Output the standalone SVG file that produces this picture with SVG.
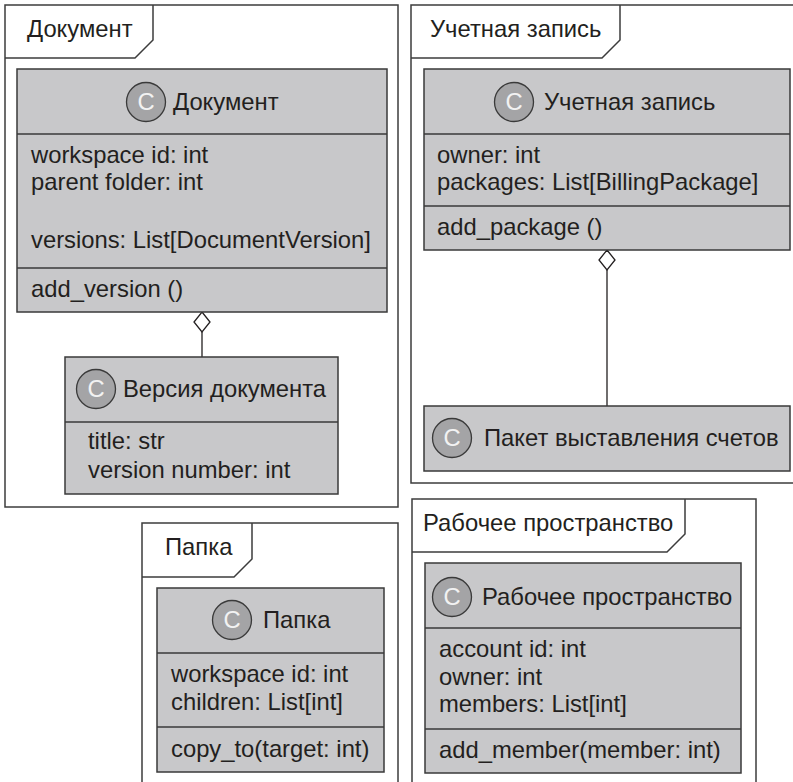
<svg xmlns="http://www.w3.org/2000/svg" width="793" height="782" viewBox="0 0 793 782">
<style>
  text { font-family: "Liberation Sans", Arial, sans-serif; font-size: 23.8px; fill: #231f20; }
  .frame { fill: #ffffff; stroke: #3c3c3c; stroke-width: 1.5; }
  .tab { fill: none; stroke: #3c3c3c; stroke-width: 1.5; }
  .cls { fill: #c8c8ca; stroke: #3a3a3a; stroke-width: 1.5; }
  .sep { stroke: #3a3a3a; stroke-width: 1.5; }
  .circ { fill: #a4a4a6; stroke: #3a3a3a; stroke-width: 1.3; }
  .cl { fill: #f2f2f2; text-anchor: middle; }
  .conn { fill: none; stroke: #231f20; stroke-width: 1.3; }
  .dia { fill: #ffffff; stroke: #231f20; stroke-width: 1.3; }
</style>

<g id="pkg-document">
  <rect class="frame" x="5" y="5" width="393" height="502"/>
  <path class="tab" d="M5,58 L135,58 L153,40 L153,5"/>
  <text x="27" y="37">Документ</text>
</g>
<g id="pkg-account">
  <rect class="frame" x="411" y="5" width="400" height="478"/>
  <path class="tab" d="M411,58 L602,58 L620,40 L620,5"/>
  <text x="430" y="37">Учетная запись</text>
</g>
<g id="pkg-folder">
  <rect class="frame" x="142" y="523" width="256" height="300"/>
  <path class="tab" d="M142,577 L234,577 L252,559 L252,523"/>
  <text x="165" y="555">Папка</text>
</g>
<g id="pkg-workspace">
  <rect class="frame" x="412" y="499" width="344" height="300"/>
  <path class="tab" d="M412,552 L667,552 L685,534 L685,499"/>
  <text x="423" y="531">Рабочее пространство</text>
</g>

<g id="connectors">
  <path class="conn" d="M202,332 L202,357"/>
  <path class="dia" d="M202,312 L210,322 L202,332 L194,322 Z"/>
  <path class="conn" d="M607,270 L607,406"/>
  <path class="dia" d="M607,250 L615,260 L607,270 L599,260 Z"/>
</g>

<g id="class-document">
  <rect class="cls" x="17" y="69" width="370" height="243"/>
  <line class="sep" x1="17" y1="134" x2="387" y2="134"/>
  <line class="sep" x1="17" y1="268" x2="387" y2="268"/>
  <circle class="circ" cx="146" cy="102" r="19.5"/>
  <text class="cl" x="146" y="110">C</text>
  <text x="173" y="110">Документ</text>
  <text x="31" y="163">workspace id: int</text>
  <text x="31" y="190">parent folder: int</text>
  <text x="31" y="248">versions: List[DocumentVersion]</text>
  <text x="31" y="297">add_version ()</text>
</g>

<g id="class-document-version">
  <rect class="cls" x="65" y="357" width="273" height="137"/>
  <line class="sep" x1="65" y1="422" x2="338" y2="422"/>
  <circle class="circ" cx="96" cy="389" r="19.5"/>
  <text class="cl" x="96" y="397">C</text>
  <text x="123" y="397">Версия документа</text>
  <text x="88" y="449">title: str</text>
  <text x="88" y="478">version number: int</text>
</g>

<g id="class-account">
  <rect class="cls" x="424" y="69" width="366" height="181"/>
  <line class="sep" x1="424" y1="134" x2="790" y2="134"/>
  <line class="sep" x1="424" y1="206" x2="790" y2="206"/>
  <circle class="circ" cx="514" cy="102" r="19.5"/>
  <text class="cl" x="514" y="110">C</text>
  <text x="544" y="110">Учетная запись</text>
  <text x="437" y="163">owner: int</text>
  <text x="437" y="190">packages: List[BillingPackage]</text>
  <text x="437" y="235">add_package ()</text>
</g>

<g id="class-billing-package">
  <rect class="cls" x="424" y="406" width="366" height="65"/>
  <circle class="circ" cx="452" cy="438" r="19.5"/>
  <text class="cl" x="452" y="446">C</text>
  <text x="484" y="446">Пакет выставления счетов</text>
</g>

<g id="class-folder">
  <rect class="cls" x="157" y="588" width="227" height="184"/>
  <line class="sep" x1="157" y1="653" x2="384" y2="653"/>
  <line class="sep" x1="157" y1="727" x2="384" y2="727"/>
  <circle class="circ" cx="232" cy="620" r="19.5"/>
  <text class="cl" x="232" y="628">C</text>
  <text x="263" y="628">Папка</text>
  <text x="171" y="682">workspace id: int</text>
  <text x="171" y="710">children: List[int]</text>
  <text x="171" y="757">copy_to(target: int)</text>
</g>

<g id="class-workspace">
  <rect class="cls" x="425" y="563" width="316" height="210"/>
  <line class="sep" x1="425" y1="628" x2="741" y2="628"/>
  <line class="sep" x1="425" y1="729" x2="741" y2="729"/>
  <circle class="circ" cx="452" cy="597" r="19.5"/>
  <text class="cl" x="452" y="605">C</text>
  <text x="482" y="605">Рабочее пространство</text>
  <text x="439" y="657">account id: int</text>
  <text x="439" y="685">owner: int</text>
  <text x="439" y="712">members: List[int]</text>
  <text x="439" y="758">add_member(member: int)</text>
</g>
</svg>
